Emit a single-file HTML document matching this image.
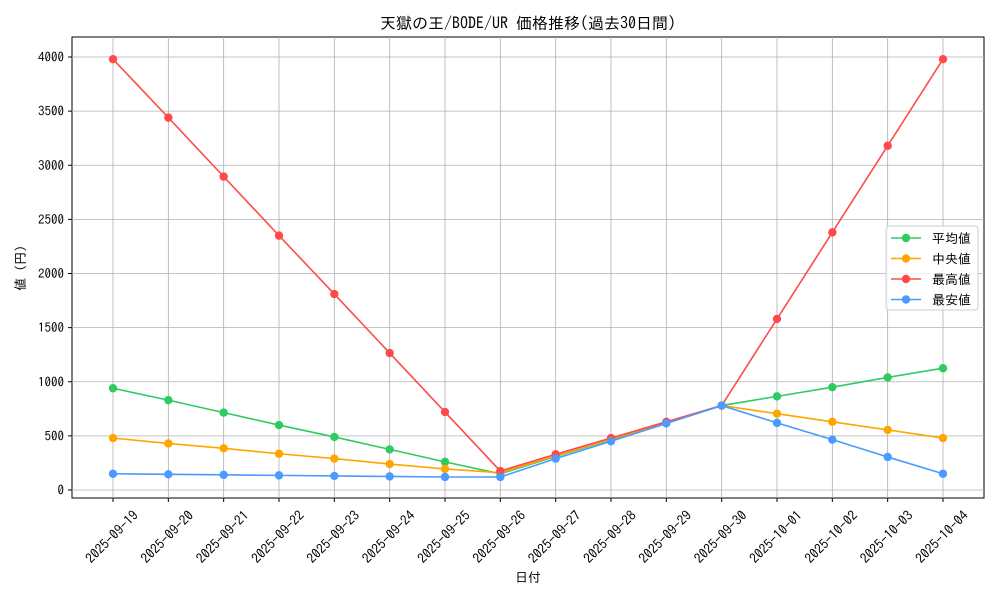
<!DOCTYPE html><html><head><meta charset="utf-8"><style>body{margin:0;background:#fff}svg{display:block;font-family:"IPAGothic","Liberation Mono",monospace}</style></head><body>
<svg id="s" width="1000" height="600" xmlns="http://www.w3.org/2000/svg"></svg>
<script>
const s=document.getElementById('s');let h='';
const X=i=>113+i*830/15, Y=v=>490-v*0.10825;
h+='<rect x="72" y="37" width="912" height="461" fill="#fff" stroke="#000" stroke-width="1"/>';
const dates=['2025-09-19','2025-09-20','2025-09-21','2025-09-22','2025-09-23','2025-09-24','2025-09-25','2025-09-26','2025-09-27','2025-09-28','2025-09-29','2025-09-30','2025-10-01','2025-10-02','2025-10-03','2025-10-04'];
for(let v=0;v<=4000;v+=500){const y=Y(v);h+=`<line x1="72" x2="984" y1="${y}" y2="${y}" stroke="#b0b0b0" stroke-width="0.8"/><line x1="68" x2="72" y1="${y}" y2="${y}" stroke="#000"/><text x="64" y="${y+4.5}" font-size="13" text-anchor="end">${v}</text>`;}
dates.forEach((d,i)=>{const x=X(i);h+=`<line x1="${x}" x2="${x}" y1="37" y2="498" stroke="#b0b0b0" stroke-width="0.8"/><line x1="${x}" x2="${x}" y1="498" y2="502" stroke="#000"/><text transform="translate(${x-1},537) rotate(-45)" font-size="13.5" text-anchor="middle" dy="4.5">${d}</text>`;});
const S=[['#2ecc60',[940,830,715,600,490,375,260,150,310,465,620,780,865,950,1040,1125]],
['#ffa500',[480,430,385,335,290,240,195,160,315,470,625,780,705,630,555,480]],
['#ff4a4a',[3980,3440,2895,2350,1810,1265,720,175,330,480,630,780,1580,2380,3180,3980]],
['#4a9bff',[150,145,140,135,130,125,120,120,290,450,615,780,620,465,305,150]]];
S.forEach(([c,d])=>{h+=`<polyline fill="none" stroke="${c}" stroke-width="1.6" points="${d.map((v,i)=>X(i)+','+Y(v)).join(' ')}"/>`;d.forEach((v,i)=>h+=`<circle cx="${X(i)}" cy="${Y(v)}" r="4.2" fill="${c}"/>`);});
h+='<rect x="886" y="226" width="92" height="84" rx="3" fill="#fff" fill-opacity="0.8" stroke="#ccc"/>';
['平均値','中央値','最高値','最安値'].forEach((t,i)=>{const y=238+i*20.5,c=S[i][0];h+=`<line x1="891" x2="921" y1="${y}" y2="${y}" stroke="${c}" stroke-width="1.6"/><circle cx="906" cy="${y}" r="4.2" fill="${c}"/><text x="932" y="${y+5}" font-size="13">${t}</text>`;});
h+='<text x="528" y="29" font-size="16" text-anchor="middle">天獄の王/BODE/UR 価格推移(過去30日間)</text>';
h+='<text x="528" y="582" font-size="13" text-anchor="middle">日付</text>';
h+='<text transform="translate(25,268) rotate(-90)" font-size="13" text-anchor="middle">値 (円)</text>';
s.innerHTML=h;
</script></body></html>
